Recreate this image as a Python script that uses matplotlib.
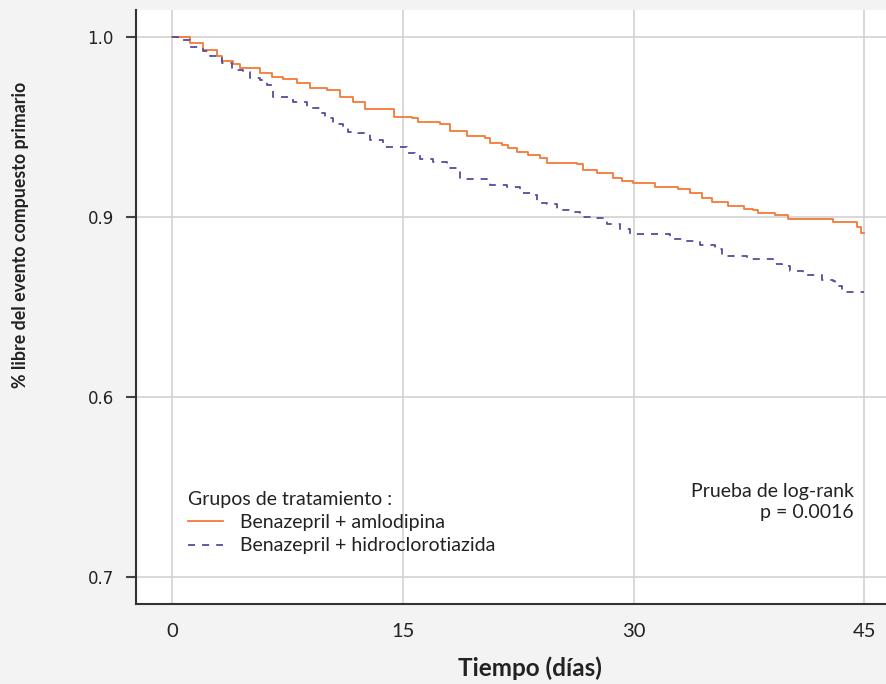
import matplotlib
matplotlib.use("Agg")
import matplotlib.pyplot as plt
from matplotlib.lines import Line2D

# Kaplan-Meier steps (days, survival)
t_amlo = [0, 1.14, 2.0, 2.88, 3.2, 3.96, 4.39, 5.7, 6.46, 7.2, 8.08, 8.95, 10.03, 10.9,
          11.76, 12.5, 12.55, 14.4, 15.56, 16.0, 17.4, 18.05, 19.14, 20.33, 20.66, 21.42,
          21.85, 22.4, 23.15, 23.9, 24.35, 26.3, 26.73, 27.6, 28.68, 29.23, 29.98, 31.4,
          32.9, 33.67, 34.43, 35.08, 36.16, 37.18, 37.79, 38.11, 39.2, 40.07, 42.95,
          44.52, 44.78, 45.0]
s_amlo = [1.0, 0.9965, 0.9928, 0.9894, 0.9867, 0.9848, 0.9826, 0.9802, 0.9776, 0.9765,
          0.9746, 0.9718, 0.9706, 0.9668, 0.9641, 0.9622, 0.960, 0.9557, 0.9548, 0.9526,
          0.9515, 0.9479, 0.945, 0.9437, 0.9413, 0.94, 0.9385, 0.9363, 0.9344, 0.9326,
          0.9302, 0.9294, 0.9261, 0.9243, 0.9215, 0.9202, 0.9187, 0.9168, 0.9154, 0.9132,
          0.9107, 0.9085, 0.9061, 0.9043, 0.9039, 0.9024, 0.9011, 0.8989, 0.8974, 0.8946,
          0.8909, 0.8909]

t_hctz = [0, 0.38, 1.14, 2.0, 2.44, 2.88, 3.2, 3.85, 4.6, 5.04, 5.69, 6.13, 6.45, 6.56,
          7.86, 8.73, 9.6, 9.92, 10.46, 11.1, 11.44, 12.09, 12.85, 13.7, 15.24, 15.78,
          16.1, 16.97, 17.84, 18.7, 20.66, 21.74, 22.61, 23.47, 23.7, 24.35, 25.0, 25.86,
          26.51, 27.38, 28.25, 29.12, 29.77, 32.37, 33.35, 34.32, 35.3, 35.73, 37.36,
          39.05, 39.64, 40.18, 41.04, 42.24, 43.0, 43.11, 43.54, 45.0]
s_hctz = [1.0, 0.9983, 0.9946, 0.9924, 0.9894, 0.9887, 0.9857, 0.9817, 0.9807, 0.9771,
          0.9761, 0.9733, 0.9728, 0.9668, 0.9641, 0.9604, 0.9579, 0.9548, 0.9517, 0.9506,
          0.9474, 0.9465, 0.9428, 0.939, 0.9354, 0.9344, 0.932, 0.9307, 0.927, 0.9209,
          0.9178, 0.9168, 0.9132, 0.9122, 0.9079, 0.9072, 0.9039, 0.9029, 0.8998, 0.8993,
          0.8961, 0.8932, 0.8906, 0.8878, 0.8868, 0.8844, 0.882, 0.8783, 0.8767, 0.8738,
          0.8728, 0.8702, 0.8678, 0.865, 0.8644, 0.8617, 0.8585, 0.8585]

x_ticks = [0, 15, 30, 45]
y_ticks = [1.0, 0.9, 0.8, 0.7]
y_labels = ["1.0", "0.9", "0.6", "0.7"]

orange = "#f47a36"
purple = "#5a4a9c"
cal = ["Lato", "DejaVu Sans"]
txt = "#222222"
dash = (3.9, 3.9)

fig = plt.figure(figsize=(8.86, 6.84), dpi=100, facecolor="#f3f3f3")
ax = fig.add_axes([136 / 886, 1 - 604 / 684, 750 / 886, 594 / 684])
ax.set_facecolor("white")

ax.step(t_amlo, s_amlo, where="post", color=orange, lw=1.3)
ax.step(t_hctz, s_hctz, where="post", color=purple, lw=1.3, dashes=dash)

ax.set_xlim(-2.375, 46.43)
ax.set_ylim(0.685, 1.015)
ax.set_xticks(x_ticks)
ax.set_xticklabels([str(v) for v in x_ticks], fontfamily=cal, fontsize=14.5, color=txt)
ax.set_yticks(y_ticks)
ax.set_yticklabels(y_labels, fontsize=12, color=txt)
ax.tick_params(axis="x", length=0, pad=14)
ax.tick_params(axis="y", length=7, width=1.5, color="#444444", pad=9)
ax.grid(True, color="#d2d2d2", lw=1.2)
ax.set_axisbelow(True)
for s in ["top", "right"]:
    ax.spines[s].set_visible(False)
for s in ["left", "bottom"]:
    ax.spines[s].set_color("#333333")
    ax.spines[s].set_linewidth(1.5)

handles = [Line2D([], [], color=orange, lw=1.3),
           Line2D([], [], color=purple, lw=1.3, dashes=dash)]
leg = ax.legend(handles, ["Benazepril + amlodipina", "Benazepril + hidroclorotiazida"],
                title="Grupos de tratamiento :", loc="upper left",
                bbox_to_anchor=(52 / 750, 1 - 481 / 594), frameon=False,
                prop={"family": cal, "size": 14}, title_fontproperties={"family": cal, "size": 14},
                alignment="left", handlelength=1.8, handletextpad=0.85, labelspacing=0.32,
                borderpad=0, borderaxespad=0)
for t in leg.get_texts():
    t.set_color(txt)
leg.get_title().set_color(txt)

fig.text(854 / 886, 1 - 483 / 684, "Prueba de log-rank\np = 0.0016", ha="right", va="top",
         fontfamily=cal, fontsize=14, color=txt, linespacing=1.3)

fig.text(21 / 886, 1 - 235 / 684, "% libre del evento compuesto primario", rotation=90,
         ha="center", va="center", fontfamily=cal, fontsize=12.8, fontweight="bold",
         color=txt)
fig.text(530 / 886, 1 - 668 / 684, "Tiempo (días)", ha="center", va="center",
         fontfamily=cal, fontsize=17.5, fontweight="bold", color=txt)

fig.savefig("out.png", dpi=100, facecolor=fig.get_facecolor())
